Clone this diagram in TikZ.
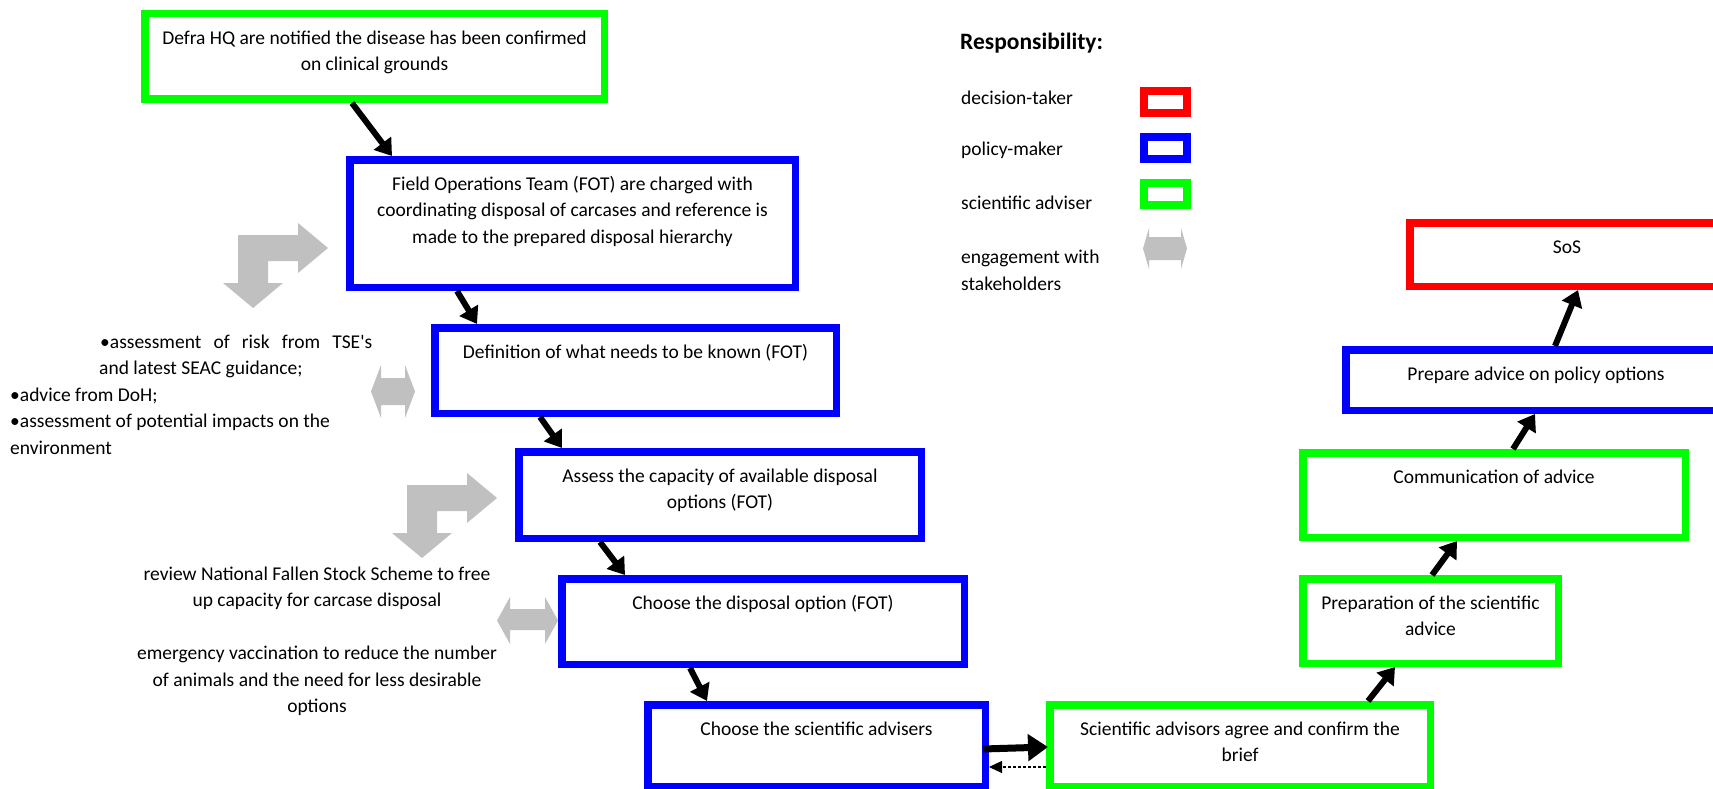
\documentclass[tikz,border=0pt]{standalone}
\usepackage{fontspec}
\setmainfont{Carlito}[Ligatures=TeXOff]
\usetikzlibrary{arrows.meta}

\definecolor{pblue}{RGB}{0,0,255}
\definecolor{pgreen}{RGB}{0,255,0}
\definecolor{pred}{RGB}{255,0,0}
\definecolor{stake}{RGB}{192,192,192}

% a framed process box: name, colour, left, top, right, bottom, text
\newcommand\flowbox[7]{%
  \pgfmathsetmacro\bxw{#5-#3-7.5}%
  \pgfmathsetmacro\bxh{#6-#4-7.5}%
  \node[box=#2, minimum width=\bxw pt, minimum height=\bxh pt] (#1) at ({(#3+#5)/2},{(#4+#6)/2}) {};
  \node[boxtext, anchor=north] (#1-t) at ([yshift=-15.5pt]#1.north) {\strut #7};
}

% grey two-headed stakeholder arrow: left, top, right, bottom, head length, shaft top, shaft bottom
\newcommand\dblarrow[7]{%
  \fill[stake] (#1,{(#2+#4)/2}) -- ({#1+#5},#2) -- ({#1+#5},#6) -- ({#3-#5},#6) -- ({#3-#5},#2)
    -- (#3,{(#2+#4)/2}) -- ({#3-#5},#4) -- ({#3-#5},#7) -- ({#1+#5},#7) -- ({#1+#5},#4) -- cycle;
}

% grey bent arrow (one head right, one head down), placed by its top-left corner
\newcommand\bentarrow[2]{%
  \fill[stake, shift={(#1,#2)}] (0,0) -- (60,0) -- (60,-12) -- (90,13) -- (60,38) -- (60,26)
    -- (30,26) -- (30,48) -- (45,48) -- (15,73) -- (-15,48) -- (0,48) -- cycle;
}

\begin{document}
\begin{tikzpicture}[x=1pt, y=-1pt,
  every node/.style={font=\fontsize{19.5}{26.5}\selectfont, inner sep=0pt, text=black},
  box/.style={draw=#1, line width=7.5pt, fill=white},
  boxtext/.style={align=center},
  keybox/.style={draw=#1, line width=8pt, fill=white, minimum width=43pt, minimum height=22pt},
  flow/.style={line width=6pt, -{Triangle[length=16pt,width=21pt]}},
  bigflow/.style={line width=7pt, -{Triangle[length=20pt,width=26pt]}},
  backflow/.style={line width=1.2pt, dash pattern=on 3pt off 2pt, -{Triangle[length=13pt,width=12pt]}}]

\useasboundingbox (0,0) rectangle (1713,789);
\clip (0,0) rectangle (1713,789);

% process boxes
\flowbox{defra}{pgreen}{141}{10}{608}{103}{Defra HQ are notified the disease has been confirmed\\on clinical grounds}
\flowbox{fot}{pblue}{346}{156}{799}{291}{Field Operations Team (FOT) are charged with\\coordinating disposal of carcases and reference is\\made to the prepared disposal hierarchy}
\flowbox{define}{pblue}{431}{324}{840}{417}{Definition of what needs to be known (FOT)}
\flowbox{assess}{pblue}{515}{448}{925}{542}{Assess the capacity of available disposal\\options (FOT)}
\flowbox{choose}{pblue}{558}{575}{968}{668}{Choose the disposal option (FOT)}
\flowbox{advisers}{pblue}{644}{701}{989}{790}{Choose the scientific advisers}
\flowbox{agree}{pgreen}{1046}{701}{1434}{790}{Scientific advisors agree and confirm the\\brief}
\flowbox{prep}{pgreen}{1299}{575}{1562}{667}{Preparation of the scientific\\advice}
\flowbox{comm}{pgreen}{1299}{449}{1689}{541}{Communication of advice}
\flowbox{policy}{pblue}{1342}{346}{1730}{414}{Prepare advice on policy options}
\flowbox{sos}{pred}{1406}{219}{1728}{290}{SoS}

% flow of the process
\draw[flow] ([xshift=-22.5pt]defra.south) -- ([xshift=-180.5pt]fot.north);
\draw[flow] ([xshift=-115.5pt]fot.south) -- ([xshift=-158.5pt]define.north);
\draw[flow] ([xshift=-95.5pt]define.south) -- ([xshift=-158pt]assess.north);
\draw[flow] ([xshift=-120pt]assess.south) -- ([xshift=-138pt]choose.north);
\draw[flow] ([xshift=-73pt]choose.south) -- ([xshift=-109.5pt]advisers.north);
\draw[bigflow] ([xshift=-6pt,yshift=-3.5pt]advisers.east) -- ([xshift=2pt,yshift=-1.5pt]agree.west);
\draw[backflow] ([yshift=-21.5pt]agree.west) -- ([yshift=-21.5pt]advisers.east);
\draw[flow] ([xshift=128pt]agree.north) -- ([xshift=-35.5pt]prep.south);
\draw[flow] ([xshift=1.5pt]prep.north) -- ([xshift=-37pt]comm.south);
\draw[flow] ([xshift=19pt]comm.north) -- ([xshift=-1pt]policy.south);
\draw[flow] ([xshift=19pt]policy.north) -- ([xshift=11pt]sos.south);

% engagement with stakeholders
\bentarrow{238}{235}
\bentarrow{407}{485}
\dblarrow{371}{365}{415}{418}{10}{378}{405}
\dblarrow{497}{597}{558}{644}{13}{609}{630}

\node[anchor=north west, align=left] (risks) at (10,329.5)
  {\strut\hspace*{90pt}\makebox[272pt][s]{\textbullet assessment of risk from TSE's}\\
   \hspace*{89pt}and latest SEAC guidance;\\
   \textbullet advice from DoH;\\
   \textbullet assessment of potential impacts on the\\
   environment};

\node[anchor=north, align=center] (measures) at (317,561.5)
  {\strut review National Fallen Stock Scheme to free\\
   up capacity for carcase disposal\\[26.5pt]
   emergency vaccination to reduce the number\\
   of animals and the need for less desirable\\
   options};

% key
\node[anchor=west, font=\fontsize{23.5}{28}\selectfont\bfseries] (key) at (960,43) {Responsibility:};
\node[anchor=west] (k-dec) at (961,98) {decision-taker};
\node[anchor=west] (k-pol) at (961,150) {policy-maker};
\node[anchor=west] (k-sci) at (961,203) {scientific adviser};
\node[anchor=west, align=left] (k-eng) at (961,270.5) {engagement with\\stakeholders};
\node[keybox=pred] (kb-dec) at (1165.5,102) {};
\node[keybox=pblue] (kb-pol) at (1165.5,148) {};
\node[keybox=pgreen] (kb-sci) at (1165.5,194) {};
\dblarrow{1143}{228}{1187}{269}{6}{237}{260}

\end{tikzpicture}
\end{document}
